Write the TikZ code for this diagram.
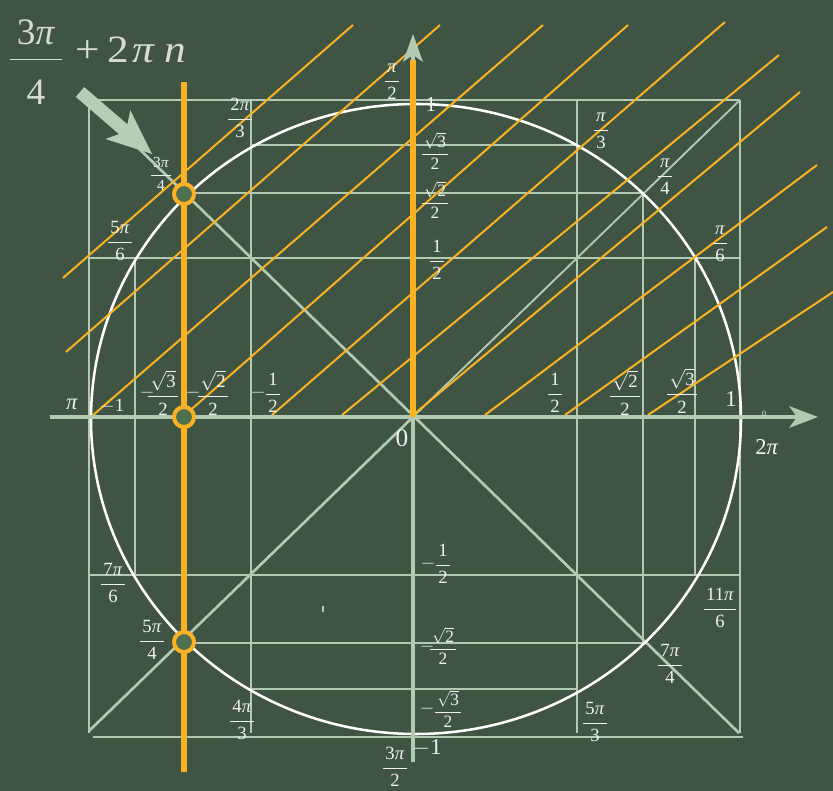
\documentclass[tikz,border=0pt]{standalone}
\usepackage{fontspec}
\usepackage{amsmath}
\usepackage{graphicx}
\setmainfont{Liberation Serif}
\definecolor{bg}{RGB}{63,84,66}
\definecolor{gridc}{RGB}{178,202,178}
\definecolor{org}{RGB}{250,178,36}
\definecolor{ringfill}{RGB}{78,112,80}
\definecolor{txt}{RGB}{240,240,240}
\definecolor{bigtxt}{RGB}{215,218,215}
\newcommand{\ppi}{\textit{π}}
\newcommand{\fr}[2]{$\genfrac{}{}{0.7pt}{0}{\mbox{\kern0.12em#1\kern0.12em\rule[-0.3em]{0pt}{0.5em}}}{\mbox{\rule{0pt}{0.82em}#2}}$}
\newcommand{\cfr}[2]{$\genfrac{}{}{0.7pt}{0}{\mbox{\kern0.12em#1\kern0.12em}}{\mbox{#2}}$}
\newcommand{\bfr}[2]{$\genfrac{}{}{0.8pt}{0}{\mbox{\kern0.18em#1\kern0.18em\rule[-0.3em]{0pt}{0.5em}}}{\mbox{\rule{0pt}{1.12em}#2}}$}
\newcommand{\sq}[1]{$\sqrt{\mbox{#1}}$}
\begin{document}
\begin{tikzpicture}[x=0.75pt,y=-0.75pt,
  gl/.style={draw=gridc,line width=2pt},
  thin gl/.style={draw=gridc,line width=1.4pt},
  ol/.style={draw=org,line width=1.5pt},
  lab/.style={text=txt,inner sep=0pt,font=\fontsize{14}{16}\selectfont},
  clab/.style={lab,font=\fontsize{13}{15}\selectfont},
  slab/.style={lab,font=\fontsize{11.5}{13}\selectfont},
  blab/.style={lab,font=\fontsize{17}{19}\selectfont},
  ring/.style={draw=org,line width=3pt,fill=ringfill}]
\fill[bg] (0,0) rectangle (833,791);
\useasboundingbox (0,0) rectangle (833,791);
% grid
\draw[gl] (89,100) -- (740,100);
\draw[gl] (251,145) -- (577,145);
\draw[gl] (184,193) -- (643,193);
\draw[gl] (89,258) -- (740,258);
\draw[gl] (89,575) -- (740,575);
\draw[gl] (184,643) -- (643,643);
\draw[gl] (251,689) -- (577,689);
\draw[gl] (93,737) -- (743,737);
\draw[gl] (89,100) -- (89,733);
\draw[gl] (740,100) -- (740,733);
\draw[gl] (251,100) -- (251,733);
\draw[gl] (577,100) -- (577,733);
\draw[gl] (135,258) -- (135,575);
\draw[gl] (695,258) -- (695,576);
\draw[gl] (643,193) -- (643,643);
\draw[gl] (89,100) -- (739,733);
\draw[gl] (413,417) -- (89,731);
\draw[thin gl] (413,417) -- (740,100);
\fill[gridc] (322,606) rectangle (323.5,612);
% circle
\draw[white,line width=1.9pt] (416,419) ellipse[x radius=325,y radius=315];
% orange slanted lines
\draw[ol] (63,278) -- (353,25);
\draw[ol] (66,352) -- (440,25);
\draw[ol] (92,416) -- (543,25);
\draw[ol] (185,415) -- (628,25);
\draw[ol] (272,415) -- (725,22);
\draw[ol] (342,415) -- (779,55);
\draw[ol] (413,415) -- (800,92);
\draw[ol] (485,415) -- (817,165);
\draw[ol] (565,415) -- (827,227);
\draw[ol] (648,415) -- (833,292);
% axes
\draw[draw=gridc,line width=3.6pt] (50,417) -- (798,417);
\fill[gridc] (818,417) -- (789,406) -- (797,417) -- (789,428) -- cycle;
\draw[draw=gridc,line width=3.4pt] (413,762) -- (413,52);
\fill[gridc] (413,34) -- (403,62) -- (413,55) -- (423,62) -- cycle;
\draw[draw=org,line width=4.2pt] (413,60) -- (413,417);
\draw[draw=org,line width=4.2pt] (184,82) -- (184,772);
\draw[ring] (184,194) circle[radius=10];
\draw[ring] (184,417) circle[radius=10];
\draw[ring] (184,642) circle[radius=10];
% big formula
\node[lab,text=bigtxt,font=\fontsize{28}{30}\selectfont] (f1) at (36,62) {\bfr{3\ppi}{4}};
\node[lab,text=bigtxt,font=\fontsize{29}{31}\selectfont,anchor=base west] (f2) at (75,63) {\scalebox{1.12}[1]{+\kern5pt2\kern2.5pt\ppi\kern6pt\textit{n}}};
% labels top half
\node[lab] (lpi2) at (392,82) {\fr{\ppi}{2}};
\node[lab,font=\fontsize{16}{18}\selectfont] (l1t) at (431,104) {1};
\node[clab] (ls3) at (435,151) {\cfr{\sq{3}}{2}};
\node[clab] (ls2) at (435,200) {\cfr{\sq{2}}{2}};
\node[lab] (lh) at (437,260) {\fr{1}{2}};
\node[lab] (l2pi3) at (240,118) {\fr{2\ppi}{3}};
\node[slab] (l3pi4) at (161,174) {\fr{3\ppi}{4}};
\node[lab] (l5pi6) at (120,241) {\fr{5\ppi}{6}};
\node[lab] (lpi3) at (601,131) {\fr{\ppi}{3}};
\node[lab] (lpi4) at (665,177) {\fr{\ppi}{4}};
\node[lab] (lpi6) at (720,244) {\fr{\ppi}{6}};
% labels on x axis
\node[blab] (lpi) at (72,404) {\ppi};
\node[lab] (lm1) at (112,406) {$-$1};
\node[lab] (lmin1) at (147,393) {$-$};
\node[lab] (lms3) at (163,393) {\fr{\sq{3}}{2}};
\node[lab] (lmin2) at (193,393) {$-$};
\node[lab] (lms2) at (213,393) {\fr{\sq{2}}{2}};
\node[lab] (lmin3) at (258,393) {$-$};
\node[lab] (lmh) at (273,393) {\fr{1}{2}};
\node[lab,font=\fontsize{19}{21}\selectfont] (l0) at (402,438) {0};
\node[lab] (lph) at (555,393) {\fr{1}{2}};
\node[lab] (lps2) at (625,393) {\fr{\sq{2}}{2}};
\node[lab] (lps3) at (682,391) {\fr{\sq{3}}{2}};
\node[lab,font=\fontsize{17}{19}\selectfont] (l1r) at (731,399) {1};
\node[lab,font=\fontsize{6}{7}\selectfont] (l0s) at (764,414) {0};
\node[lab,font=\fontsize{17}{19}\selectfont] (l2pi) at (767,447) {2\ppi};
% labels bottom half
\node[lab] (l7pi6) at (113,583) {\fr{7\ppi}{6}};
\node[lab] (l5pi4) at (152,640) {\fr{5\ppi}{4}};
\node[lab] (l4pi3) at (242,720) {\fr{4\ppi}{3}};
\node[lab] (l3pi2) at (395,767) {\fr{3\ppi}{2}};
\node[lab,font=\fontsize{17}{19}\selectfont] (lm1b) at (427,748) {$-$1};
\node[lab] (lmin4) at (428,564) {$-$};
\node[lab] (lmhb) at (443,564) {\fr{1}{2}};
\node[lab] (lmin5) at (427,647) {$-$};
\node[clab] (lms2b) at (443,646) {\cfr{\sq{2}}{2}};
\node[lab] (lmin6) at (427,709) {$-$};
\node[clab] (lms3b) at (448,709) {\cfr{\sq{3}}{2}};
\node[lab] (l5pi3) at (595,722) {\fr{5\ppi}{3}};
\node[lab] (l7pi4) at (670,664) {\fr{7\ppi}{4}};
\node[lab] (l11pi6) at (720,608) {\fr{11\ppi}{6}};
% big pointer arrow
\fill[gridc!95!white] (84.2,87.1) -- (127.4,124.3) -- (130.3,110.2) -- (152,154) -- (105.5,139.0) -- (119.0,134.1) -- (75.8,96.9) -- cycle;
\end{tikzpicture}
\end{document}
